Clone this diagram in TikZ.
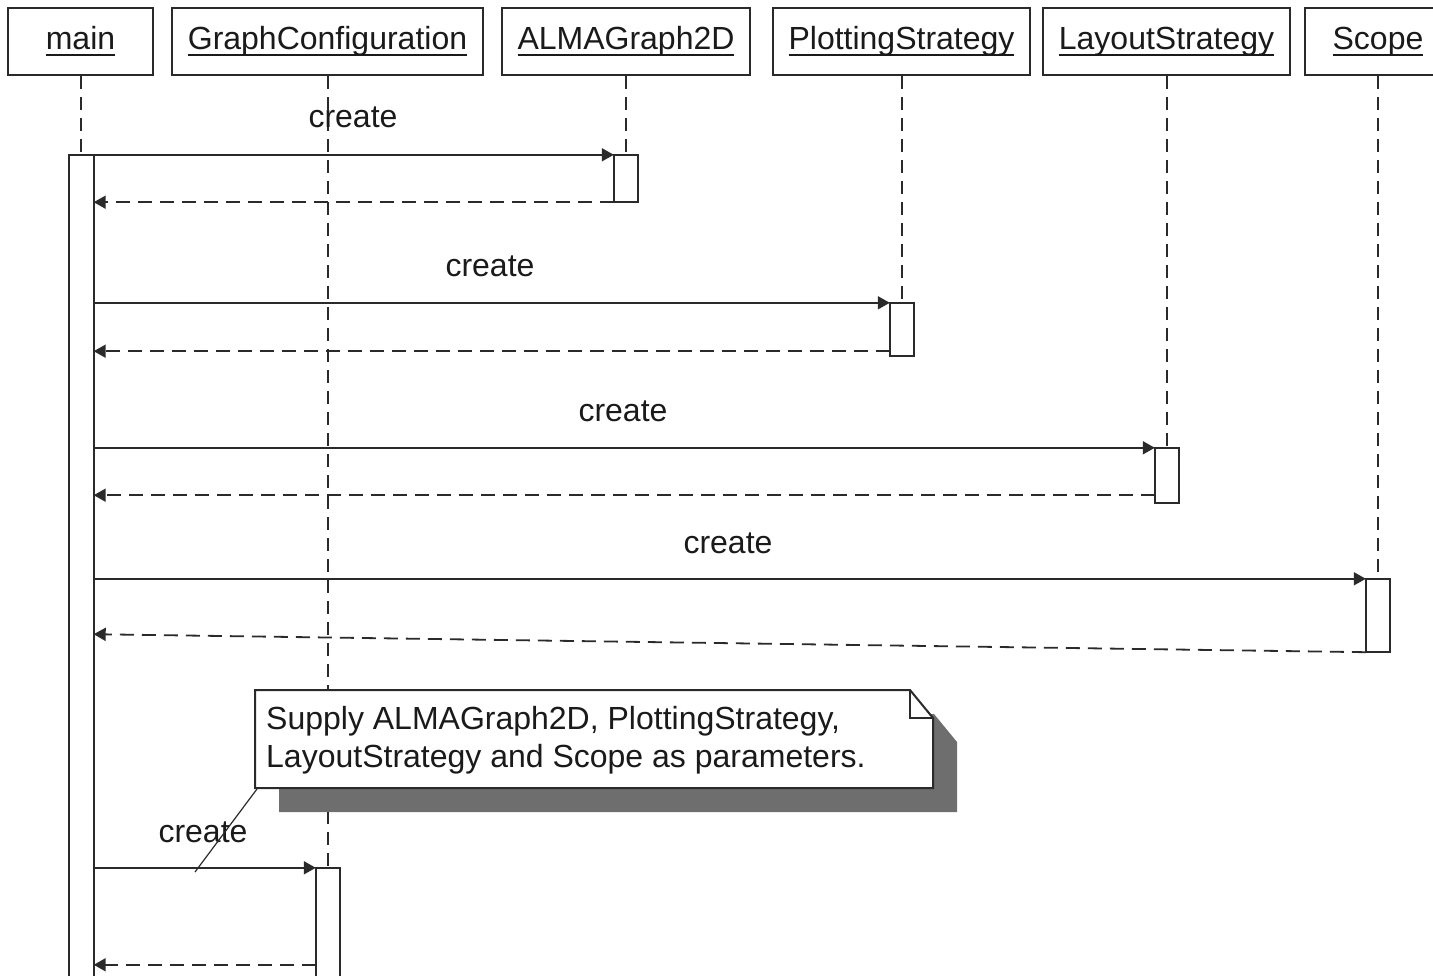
\documentclass[tikz,border=0pt]{standalone}
\usepackage{fontspec}
\setmainfont{Liberation Sans}
\usetikzlibrary{arrows.meta,calc}
% underlined object name, the rule running through the descenders
\newcommand\ulbl[1]{\setbox0\hbox{#1}\rlap{\rule[-6pt]{\wd0}{1.8pt}}\box0}
\definecolor{edge}{HTML}{2A2A2A}
\definecolor{ink}{HTML}{1A1A1A}
\definecolor{shadowgray}{HTML}{6E6E6E}
\begin{document}
\begin{tikzpicture}[x=1pt,y=-1pt,
  every node/.style={font=\fontsize{32}{38}\selectfont, text=ink},
  hdr/.style={draw=edge, line width=2pt, fill=white, minimum height=67pt,
    inner sep=0pt, text height=23pt, text depth=6pt},
  life/.style={draw=edge, line width=2pt, dash pattern=on 13pt off 8pt},
  bar/.style={minimum width=24pt, inner sep=0pt},
  barline/.style={draw=edge, line width=2pt, fill=white},
  msg/.style={draw=edge, line width=1.8pt, -{Triangle[length=12pt,width=13pt]}},
  ret/.style={msg, dash pattern=on 14pt off 8pt},
  lbl/.style={anchor=base, inner sep=0pt},
]
\useasboundingbox (0,0) rectangle (1433,976);
\clip (0,0) rectangle (1433,976);

% object headers
\node[hdr, minimum width=145pt] (main)   at (80.5,41.5)  {\ulbl{main}};
\node[hdr, minimum width=311pt] (gc)     at (327.5,41.5) {\ulbl{GraphConfiguration}};
\node[hdr, minimum width=248pt] (alma)   at (626,41.5)   {\ulbl{ALMAGraph2D}};
\node[hdr, minimum width=257pt] (plot)   at (901.5,41.5) {\ulbl{PlottingStrategy}};
\node[hdr, minimum width=247pt] (layout) at (1166.5,41.5){\ulbl{LayoutStrategy}};
\node[hdr, minimum width=146pt] (scope)  at (1378,41.5)  {\ulbl{Scope}};

% activation bars (placed as empty nodes first so lifelines can reach them)
\path
  node[bar, minimum height=835pt] (mbar) at (81.5,572.5) {}
  node[bar, minimum height=47pt]  (a1) at (626,178.5) {}
  node[bar, minimum height=53pt]  (a2) at (902,329.5) {}
  node[bar, minimum height=55pt]  (a3) at (1167,475.5) {}
  node[bar, minimum height=73pt]  (a4) at (1378,615.5) {}
  node[bar, minimum height=122pt] (a5) at (328,929) {};

% lifelines
\draw[life] (main.south)   -- (main.south |- mbar.north);
\draw[life] (gc.south)     -- (gc.south |- a5.north);
\draw[life] (alma.south)   -- (alma.south |- a1.north);
\draw[life] (plot.south)   -- (plot.south |- a2.north);
\draw[life] (layout.south) -- (layout.south |- a3.north);
\draw[life] (scope.south)  -- (scope.south |- a4.north);

% bars drawn over the lifelines
\foreach \b in {mbar,a1,a2,a3,a4,a5}
  \draw[barline] (\b.north west) rectangle (\b.south east);

% creation messages and their returns
\draw[msg] (a1.north west -| mbar.east) -- (a1.north west);
\draw[ret] (a1.south west) -- (a1.south west -| mbar.east);
\draw[msg] (a2.north west -| mbar.east) -- (a2.north west);
\draw[ret] ($(a2.south west)+(0,-5)$) -- ($(a2.south west -| mbar.east)+(0,-5)$);
\draw[msg] (a3.north west -| mbar.east) -- (a3.north west);
\draw[ret] ($(a3.south west)+(0,-8)$) -- ($(a3.south west -| mbar.east)+(0,-8)$);
\draw[msg] (a4.north west -| mbar.east) -- (a4.north west);
\draw[ret] (a4.south west) -- ($(a4.south west -| mbar.east)+(0,-18)$);
\draw[msg] (a5.north west -| mbar.east) -- (a5.north west);
\draw[ret] ($(a5.north west)+(0,97)$) -- ($(a5.north west -| mbar.east)+(0,97)$);

% message labels
\node[lbl] (m1) at (353,128) {create};
\node[lbl] (m2) at (490,277) {create};
\node[lbl] (m3) at (623,421) {create};
\node[lbl] (m4) at (728,553) {create};
\node[lbl] (m5) at (203,842) {create};

% note with folded corner and drop shadow
\fill[shadowgray] (279,714) -- (934,714) -- (957,742) -- (957,812) -- (279,812) -- cycle;
\filldraw[fill=white, draw=edge, line width=2pt]
  (255,690) -- (910,690) -- (933,718) -- (933,788) -- (255,788) -- cycle;
\draw[draw=edge, line width=2pt] (910,690) -- (910,718) -- (933,718);
\node[anchor=north west, inner sep=0pt, align=left] (notetext) at (266,706)
  {Supply ALMAGraph2D, PlottingStrategy,\\LayoutStrategy and Scope as parameters.};
\coordinate (notecorner) at (257,789);
\coordinate (noteend) at (195,872);
\draw[draw=edge, line width=1.2pt] (notecorner) -- (noteend);
\end{tikzpicture}
\end{document}
